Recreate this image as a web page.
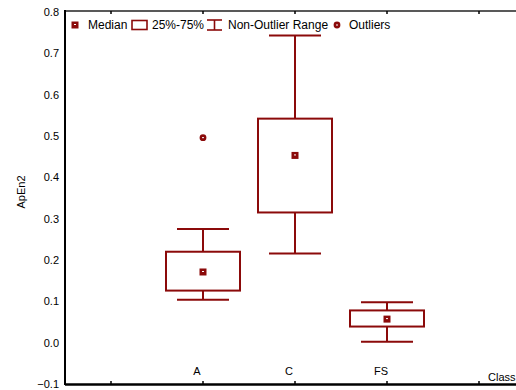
<!DOCTYPE html>
<html>
<head>
<meta charset="utf-8">
<script src="https://cdn.jsdelivr.net/npm/d3@7"></script>
<style>
  body { margin: 0; background: #fff; }
  text { font-family: "Liberation Sans", Arial, sans-serif; }
</style>
</head>
<body>
<div id="chart"></div>
<script>
const categories = ['A', 'C', 'FS']
const slots = ['s0', 'A', 'C', 'FS', 's4']
const medians = [0.171, 0.453, 0.057]
const q1 = [0.126, 0.315, 0.039]
const q3 = [0.220, 0.542, 0.078]
const whiskerLow = [0.104, 0.216, 0.002]
const whiskerHigh = [0.275, 0.743, 0.098]
const outliers = [{ cat: 'A', value: 0.496 }]
const yTicks = [-0.1, 0, 0.1, 0.2, 0.3, 0.4, 0.5, 0.6, 0.7, 0.8]

const width = 516
const height = 390
const margin = { top: 11, left: 65, right: -9, bottom: 6 }
const red = '#8b0a0a'

const svg = d3
  .select('#chart')
  .append('svg')
  .attr('width', width)
  .attr('height', height)

const xPositionScale = d3
  .scaleBand()
  .domain(slots)
  .range([margin.left, width - margin.right])
const yPositionScale = d3
  .scaleLinear()
  .domain([-0.1, 0.8])
  .range([384, 12])

const cx = d => xPositionScale(d) + xPositionScale.bandwidth() / 2
const boxW = 74
const capW = 52

const boxes = categories.map((c, i) => ({
  cat: c,
  median: medians[i],
  q1: q1[i],
  q3: q3[i],
  lo: whiskerLow[i],
  hi: whiskerHigh[i]
}))

// y tick labels
svg
  .selectAll('.ytick')
  .data(yTicks)
  .enter()
  .append('text')
  .attr('x', 59)
  .attr('y', d => yPositionScale(d))
  .attr('dy', '0.35em')
  .attr('text-anchor', 'end')
  .attr('font-size', 11)
  .text(d => d3.format('.1f')(d))

svg
  .append('text')
  .attr('transform', 'translate(25,192) rotate(-90)')
  .attr('text-anchor', 'middle')
  .attr('font-size', 11)
  .text('ApEn2')

// whiskers
const g = svg.append('g')
boxes.forEach(d => {
  const x = cx(d.cat)
  g.append('line')
    .attr('x1', x).attr('x2', x)
    .attr('y1', yPositionScale(d.hi)).attr('y2', yPositionScale(d.q3))
    .attr('stroke', red).attr('stroke-width', 2)
  g.append('line')
    .attr('x1', x).attr('x2', x)
    .attr('y1', yPositionScale(d.q1)).attr('y2', yPositionScale(d.lo))
    .attr('stroke', red).attr('stroke-width', 2)
  ;[d.hi, d.lo].forEach(v => {
    g.append('line')
      .attr('x1', x - capW / 2).attr('x2', x + capW / 2)
      .attr('y1', yPositionScale(v)).attr('y2', yPositionScale(v))
      .attr('stroke', red).attr('stroke-width', 2)
  })
  g.append('rect')
    .attr('x', x - boxW / 2)
    .attr('y', yPositionScale(d.q3))
    .attr('width', boxW)
    .attr('height', yPositionScale(d.q1) - yPositionScale(d.q3))
    .attr('fill', 'none')
    .attr('stroke', red)
    .attr('stroke-width', 2)
  medianMark(g, x, yPositionScale(d.median))
})

outliers.forEach(d => outlierMark(g, cx(d.cat), yPositionScale(d.value)))

function medianMark(sel, x, y) {
  sel.append('rect')
    .attr('x', x - 3.5).attr('y', y - 3.5)
    .attr('width', 7).attr('height', 7)
    .attr('fill', red)
  sel.append('rect')
    .attr('x', x - 1).attr('y', y - 1)
    .attr('width', 2).attr('height', 1)
    .attr('fill', '#fff')
}

function outlierMark(sel, x, y) {
  sel.append('circle')
    .attr('cx', x).attr('cy', y).attr('r', 3.4)
    .attr('fill', red)
  sel.append('rect')
    .attr('x', x - 1).attr('y', y - 0.5)
    .attr('width', 2).attr('height', 1)
    .attr('fill', '#fff')
}

// category labels (inside plot, above axis)
svg
  .selectAll('.cat')
  .data(categories)
  .enter()
  .append('text')
  .attr('x', d => cx(d) - 6)
  .attr('y', 375)
  .attr('text-anchor', 'middle')
  .attr('font-size', 11)
  .text(d => d)

svg.append('text')
  .attr('x', 488)
  .attr('y', 381)
  .attr('font-size', 11)
  .text('Class')

// frame
const x0 = margin.left
const x1 = width - margin.right
svg.append('line')
  .attr('x1', x0).attr('x2', x1)
  .attr('y1', 11).attr('y2', 11)
  .attr('stroke', '#222').attr('stroke-width', 1.5)
svg.append('line')
  .attr('x1', x0).attr('x2', x0)
  .attr('y1', 10).attr('y2', 385)
  .attr('stroke', '#000').attr('stroke-width', 2)
svg.append('line')
  .attr('x1', x0).attr('x2', x1)
  .attr('y1', 384.5).attr('y2', 384.5)
  .attr('stroke', '#000').attr('stroke-width', 2.5)

// ticks top and bottom
slots.forEach(s => {
  const x = cx(s)
  svg.append('line')
    .attr('x1', x).attr('x2', x).attr('y1', 11).attr('y2', 14)
    .attr('stroke', '#000').attr('stroke-width', 1.5)
  svg.append('line')
    .attr('x1', x).attr('x2', x).attr('y1', 384).attr('y2', 381)
    .attr('stroke', '#000').attr('stroke-width', 1.5)
})

// legend
const lg = svg.append('g').attr('font-size', 12)
const ly = 25
medianMark(lg, 75, ly)
lg.append('text').attr('x', 88).attr('y', ly).attr('dy', '0.35em').text('Median')
lg.append('rect')
  .attr('x', 132).attr('y', ly - 4.5).attr('width', 15).attr('height', 9)
  .attr('fill', 'none').attr('stroke', red).attr('stroke-width', 1.6)
lg.append('text').attr('x', 152).attr('y', ly).attr('dy', '0.35em').text('25%-75%')
lg.append('line').attr('x1', 207).attr('x2', 222).attr('y1', ly - 5).attr('y2', ly - 5)
  .attr('stroke', red).attr('stroke-width', 1.6)
lg.append('line').attr('x1', 207).attr('x2', 222).attr('y1', ly + 5).attr('y2', ly + 5)
  .attr('stroke', red).attr('stroke-width', 1.6)
lg.append('line').attr('x1', 214.5).attr('x2', 214.5).attr('y1', ly - 5).attr('y2', ly + 5)
  .attr('stroke', red).attr('stroke-width', 1.6)
lg.append('text').attr('x', 228).attr('y', ly).attr('dy', '0.35em').text('Non-Outlier Range')
outlierMark(lg, 337, ly)
lg.append('text').attr('x', 349).attr('y', ly).attr('dy', '0.35em').text('Outliers')
</script>
</body>
</html>
